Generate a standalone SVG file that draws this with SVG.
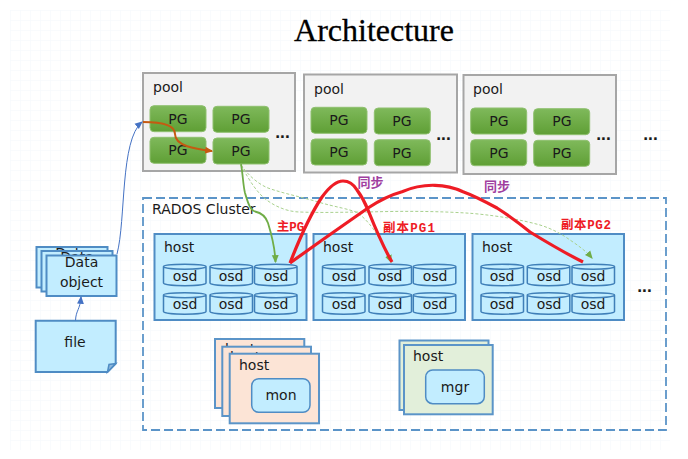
<svg xmlns="http://www.w3.org/2000/svg" width="688" height="459" viewBox="0 0 688 459">
<style>
text{font-family:"DejaVu Sans","Noto Sans CJK SC",sans-serif;fill:#1a1a1a;font-size:14px}
.c{text-anchor:middle}
.pool{fill:#f2f2f2;stroke:#a6a6a6;stroke-width:2}
.pg{fill:url(#g);stroke:#8fc06f;stroke-width:1}
.blue{fill:#c2edff;stroke:#4f8cc4;stroke-width:2}
#o{fill:#c2edff;stroke:#3f7fb8;stroke-width:1.5}
.red{fill:none;stroke:#ee1c25;stroke-width:3.2}
.gd{fill:none;stroke:#a9d18e;stroke-width:1;stroke-dasharray:3 2}
.lab{font-family:"Liberation Mono","Noto Sans CJK SC",monospace;font-weight:bold;font-size:12.5px;fill:#ee1c25}
.sync{font-family:"Noto Sans CJK SC",sans-serif;font-weight:bold;font-size:13px;fill:#a040a0}
.d{font-weight:bold;font-size:14px;letter-spacing:-.5px}
</style>
<defs>
<linearGradient id="g" x1="0" y1="0" x2="0" y2="1"><stop offset="0" stop-color="#7fb95b"/><stop offset="1" stop-color="#5f9f35"/></linearGradient>
<pattern id="grid" width="10" height="10" patternUnits="userSpaceOnUse"><path d="M10 0H0V10" fill="none" stroke="#f3f7fb" stroke-width="1"/></pattern>
<marker id="aB" markerWidth="8" markerHeight="8" refX="6" refY="3" orient="auto" markerUnits="userSpaceOnUse" viewBox="0 0 7 6"><path d="M0 0L7 3L0 6Z" fill="#4472c4"/></marker>
<marker id="aO" markerWidth="8" markerHeight="8" refX="6" refY="3" orient="auto" markerUnits="userSpaceOnUse" viewBox="0 0 7 6"><path d="M0 0L7 3L0 6Z" fill="#c55a11"/></marker>
<marker id="aG" markerWidth="8" markerHeight="8" refX="6" refY="3" orient="auto" markerUnits="userSpaceOnUse" viewBox="0 0 7 6"><path d="M0 0L7 3L0 6Z" fill="#70ad47"/></marker>
<path id="o" d="M0 4.500C0 1.500 42.500 1.500 42.500 4.500V21C42.500 24.500 0 24.500 0 21ZM0 4.500C0 8 42.500 8 42.500 4.500"/>
</defs>
<rect width="688" height="459" fill="#fff"/>
<rect x="10" y="10" width="660" height="440" fill="url(#grid)"/>
<text x="374" y="41" class="c" style="font-family:'Liberation Serif',serif;font-size:32px;fill:#000;stroke:#000;stroke-width:.3">Architecture</text>

<g id="pool1"><rect class="pool" x="143" y="73" width="152" height="98"/><text x="153" y="92">pool</text>
<rect class="pg" x="150" y="105.700" width="56" height="26" rx="4"/><text class="c" x="178" y="124">PG</text>
<rect class="pg" x="213" y="106.300" width="56" height="26" rx="4"/><text class="c" x="241" y="124">PG</text>
<rect class="pg" x="150" y="137.300" width="56" height="26" rx="4"/><text class="c" x="178" y="155">PG</text>
<rect class="pg" x="213" y="138" width="56" height="26" rx="4"/><text class="c" x="241" y="156">PG</text>
<text class="d" x="275" y="138">...</text></g>

<g id="pool2"><rect class="pool" x="304" y="74.500" width="153" height="98"/><text x="314" y="94">pool</text>
<rect class="pg" x="311" y="107.300" width="56" height="26" rx="4"/><text class="c" x="339" y="125">PG</text>
<rect class="pg" x="374.300" y="108" width="56" height="26" rx="4"/><text class="c" x="402" y="126">PG</text>
<rect class="pg" x="311" y="139" width="56" height="26" rx="4"/><text class="c" x="339" y="157">PG</text>
<rect class="pg" x="374.300" y="139.700" width="56" height="26" rx="4"/><text class="c" x="402" y="158">PG</text>
<text class="d" x="436" y="140">...</text></g>

<g id="pool3"><rect class="pool" x="463.500" y="75" width="152.500" height="99"/><text x="473" y="94">pool</text>
<rect class="pg" x="470.700" y="108" width="56" height="26" rx="4"/><text class="c" x="499" y="126">PG</text>
<rect class="pg" x="533.700" y="108.700" width="56" height="26" rx="4"/><text class="c" x="562" y="126">PG</text>
<rect class="pg" x="470.700" y="139.700" width="56" height="26" rx="4"/><text class="c" x="499" y="158">PG</text>
<rect class="pg" x="533.700" y="140.300" width="56" height="26" rx="4"/><text class="c" x="562" y="158">PG</text>
<text class="d" x="596" y="140">...</text></g>
<text class="d" x="643" y="140">...</text>

<g id="rados"><rect x="143" y="198" width="523" height="232" fill="none" stroke="#5b94c8" stroke-width="1.800" stroke-dasharray="9 4"/><text x="152" y="214">RADOS Cluster</text></g>

<g id="host1"><rect class="blue" x="154.500" y="234" width="152" height="86"/><text x="164" y="252">host</text>
<use href="#o" x="163.500" y="262"/><use href="#o" x="210" y="262"/><use href="#o" x="254.500" y="262"/><use href="#o" x="163.500" y="290.500"/><use href="#o" x="210" y="290.500"/><use href="#o" x="254.500" y="290.500"/>
<text class="c" x="185" y="281">osd</text><text class="c" x="231" y="281">osd</text><text class="c" x="276" y="281">osd</text>
<text class="c" x="185" y="309">osd</text><text class="c" x="231" y="309">osd</text><text class="c" x="276" y="309">osd</text></g>

<g id="host2"><rect class="blue" x="313.500" y="234" width="151.500" height="86"/><text x="323" y="252">host</text>
<use href="#o" x="322.500" y="262"/><use href="#o" x="369" y="262"/><use href="#o" x="413.300" y="262"/><use href="#o" x="322.500" y="290.500"/><use href="#o" x="369" y="290.500"/><use href="#o" x="413.300" y="290.500"/>
<text class="c" x="344" y="281">osd</text><text class="c" x="390" y="281">osd</text><text class="c" x="435" y="281">osd</text>
<text class="c" x="344" y="309">osd</text><text class="c" x="390" y="309">osd</text><text class="c" x="435" y="309">osd</text></g>

<g id="host3"><rect class="blue" x="472.500" y="234" width="151.500" height="86"/><text x="482" y="252">host</text>
<use href="#o" x="481" y="262"/><use href="#o" x="527.300" y="262"/><use href="#o" x="572" y="262"/><use href="#o" x="481" y="290.500"/><use href="#o" x="527.300" y="290.500"/><use href="#o" x="572" y="290.500"/>
<text class="c" x="502" y="281">osd</text><text class="c" x="549" y="281">osd</text><text class="c" x="593" y="281">osd</text>
<text class="c" x="502" y="309">osd</text><text class="c" x="549" y="309">osd</text><text class="c" x="593" y="309">osd</text></g>
<text class="d" x="637" y="292">...</text>

<g id="data"><rect class="blue" x="36.500" y="247" width="71" height="40.500"/><text class="c" x="72" y="257.500">Data</text>
<rect class="blue" x="41.500" y="251" width="71" height="40.500"/><text class="c" x="77" y="262">Data</text>
<rect class="blue" x="46.500" y="255.500" width="70" height="40.500"/><text class="c" x="81.500" y="267">Data</text><text class="c" x="81.500" y="287">object</text></g>

<g id="file"><path class="blue" d="M35.700 320.700H115.700V363.500L107.500 372H35.700Z"/><path d="M107.500 372L109 364.500L115.700 363.500Z" fill="#8fb8dc" stroke="#4f8cc4" stroke-width="1.500"/><text class="c" x="75" y="347">file</text></g>

<g id="monhosts"><rect x="215" y="339" width="89.300" height="69" fill="#fce4d6" stroke="#5b94c8" stroke-width="2"/><text x="225" y="354">host</text>
<rect x="222.300" y="346.700" width="88.700" height="69.300" fill="#fce4d6" stroke="#5b94c8" stroke-width="2"/><text x="230" y="362">host</text>
<rect x="229.700" y="353.700" width="89.300" height="69.600" fill="#fce4d6" stroke="#5b94c8" stroke-width="2"/><text x="239" y="370">host</text>
<rect class="blue" x="251.700" y="378.700" width="58.300" height="33.600" rx="7" style="stroke-width:1.500"/><text class="c" x="281" y="400">mon</text></g>

<g id="mgrhosts"><rect x="399.500" y="340.500" width="89" height="69.500" fill="#e2efda" stroke="#5b94c8" stroke-width="2"/>
<rect x="404" y="345" width="88.700" height="69.300" fill="#e2efda" stroke="#5b94c8" stroke-width="2"/><text x="413" y="361">host</text>
<rect class="blue" x="425.700" y="370" width="58.600" height="33.700" rx="7" style="stroke-width:1.500"/><text class="c" x="455" y="392">mgr</text></g>

<g id="connectors">
<path d="M75.500 320.500C76 310 80 310 81 297" fill="none" stroke="#4472c4" stroke-width="1" marker-end="url(#aB)"/>
<path d="M117 254C126 220 120 140 142 122" fill="none" stroke="#4472c4" stroke-width="1" marker-end="url(#aB)"/>
<path d="M143 122C160 122 175 124 175 134C175 146 195 149 212 151" fill="none" stroke="#c55a11" stroke-width="2" marker-end="url(#aO)"/>
<path class="gd" d="M241 165C248 175 258 184 268 188C285 194 302 197 318 202C335 207 350 209 358 213C372 224 382 240 391 262" marker-end="url(#aG)"/>
<path class="gd" d="M241 165C250 182 258 194 268 201C278 208 290 212 300 212C325 213 345 212 368 212C400 211 440 211 473 213.500C500 216 522 220 540 225C553 229 563 235 570 240C579 246 587 252 592 258" marker-end="url(#aG)"/>
<path d="M241 164C243 175 243 185 245 193C248 203 250 210 255 211.500C262 213 266 217 268 223C272 236 275 248 275.500 262" fill="none" stroke="#70ad47" stroke-width="1.800" marker-end="url(#aG)"/>
<path class="red" d="M290 263C297 245 310 215 322 197C330 186 337 181 343 181C350 181 354 185 357 190C363 198 366 205 368 210C376 230 385 250 392 262"/>
<path class="red" d="M290 263C315 245 345 224 368 208C380 200 390 195 402 191.700C413 187 425 185 435 185.300C445 185.500 455 188 463 191.700C475 196 486 202 497 208C508 215 520 224 530 232C548 243 565 253 583 262"/>
</g>
<text class="lab" x="276.700" y="231">主PG</text>
<text class="lab" x="383" y="231.500" textLength="52">副本PG1</text>
<text class="lab" x="561" y="228.500" textLength="50">副本PG2</text>
<text class="sync" x="357.500" y="187">同步</text>
<text class="sync" x="484" y="190.500">同步</text>
</svg>
